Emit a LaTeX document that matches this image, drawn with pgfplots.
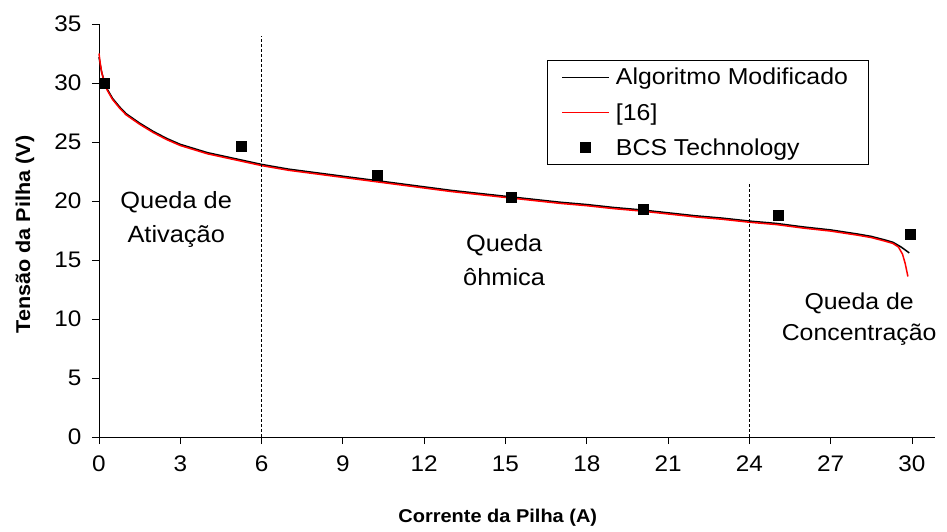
\documentclass[border=0pt]{standalone}
\usepackage{pgfplots}
\pgfplotsset{compat=1.18}
\usepackage{fontspec}
\setmainfont[FakeStretch=1.08]{Liberation Sans}
\begin{document}
\begin{tikzpicture}
\path[use as bounding box] (-99pt,-95pt) rectangle (848pt,437pt);
\begin{axis}[
  scale only axis,
  width=836pt, height=413pt,
  at={(0,0)}, anchor=south west,
  xmin=0, xmax=30.85, ymin=0, ymax=35,
  axis x line=bottom, axis y line=left,
  axis line style={-, line width=0.8pt},
  xtick={0,3,...,30}, ytick={0,5,...,35},
  tick align=outside, major tick length=7pt,
  tick style={line width=0.8pt, black},
  /pgf/number format/assume math mode=true,
  ticklabel style={font=\fontsize{22.5}{26}\selectfont},
  xticklabel style={yshift=-8pt},
  yticklabel style={xshift=-7pt},
  xlabel={Corrente da Pilha (A)},
  ylabel={Tensão da Pilha (V)},
  xlabel style={font=\bfseries\fontsize{18.5}{22}\selectfont, at={(axis description cs:0.477,-0.196)}, anchor=center},
  ylabel style={font=\bfseries\fontsize{20}{24}\selectfont, at={(axis description cs:-0.0885,0.49)}, anchor=center},
  legend image code/.code={\draw[mark repeat=2,mark phase=2,#1] plot coordinates {(0pt,0pt) (23.5pt,0pt) (47pt,0pt)};},
  legend image post style={line width=1.5pt},
  legend style={at={(axis description cs:0.536,0.913)}, anchor=north west,
    draw=black, line width=0.8pt, font=\fontsize{23}{26}\selectfont,
    row sep=17pt, inner xsep=14pt, inner ysep=8pt,
    nodes={inner xsep=6pt, inner ysep=0pt},
    legend cell align=left},
  clip=false,
]
\addplot[black, line width=1.5pt] coordinates {
(0,32.2) (0.05,31.5) (0.1,30.9) (0.2,30.1) (0.3,29.5) (0.5,28.7) (0.75,28.0) (1,27.4)
(1.5,26.6) (2,25.9) (2.5,25.3) (3,24.8) (4,24.1) (5,23.6) (6,23.1) (7,22.7) (8,22.4)
(9,22.1) (10,21.8) (11,21.5) (12,21.2) (13,20.9) (14,20.65) (15,20.4) (16,20.15)
(17,19.9) (18,19.7) (19,19.45) (20,19.25) (21,19.0) (22,18.75) (23,18.55) (24,18.3)
(25,18.1) (26,17.8) (27,17.55) (28,17.2) (28.5,17.0) (29,16.7) (29.3,16.5) (29.6,16.1) (29.9,15.6)
};
\addlegendentry{Algoritmo Modificado}
\addplot[red, line width=1.5pt] coordinates {
(0,32.5) (0.05,31.6) (0.1,30.9) (0.2,30.0) (0.3,29.4) (0.5,28.6) (0.75,27.9) (1,27.3)
(1.5,26.5) (2,25.8) (2.5,25.2) (3,24.7) (4,24.0) (5,23.5) (6,23.0) (7,22.6) (8,22.3)
(9,22.0) (10,21.7) (11,21.4) (12,21.1) (13,20.8) (14,20.55) (15,20.3) (16,20.05)
(17,19.8) (18,19.6) (19,19.35) (20,19.15) (21,18.9) (22,18.65) (23,18.45) (24,18.2)
(25,18.0) (26,17.7) (27,17.45) (28,17.1) (28.5,16.9) (29,16.6) (29.3,16.4) (29.5,16.1)
(29.65,15.5) (29.75,14.7) (29.85,13.6)
};
\addlegendentry{[16]}
\addplot[only marks, mark=square*, mark size=5pt, black] coordinates {
(0.18,29.95) (5.25,24.65) (10.25,22.2) (15.2,20.3) (20.1,19.3) (25.05,18.8) (29.95,17.15)
};
\addlegendentry{BCS Technology}
\addplot[forget plot, black, line width=0.6pt, dash pattern=on 3pt off 2pt] coordinates {(6,0) (6,34)};
\addplot[forget plot, black, line width=0.6pt, dash pattern=on 3pt off 2pt] coordinates {(24,0) (24,21.5)};
\node[align=center, font=\fontsize{23.5}{34}\selectfont] at (axis cs:2.85,18.4) {Queda de\\Ativação};
\node[align=center, font=\fontsize{23.5}{34}\selectfont] at (axis cs:14.95,15.0) {Queda\\ôhmica};
\node[align=center, font=\fontsize{23}{31}\selectfont] at (axis cs:28.05,10.0) {Queda de\\Concentração};
\end{axis}
\end{tikzpicture}
\end{document}
